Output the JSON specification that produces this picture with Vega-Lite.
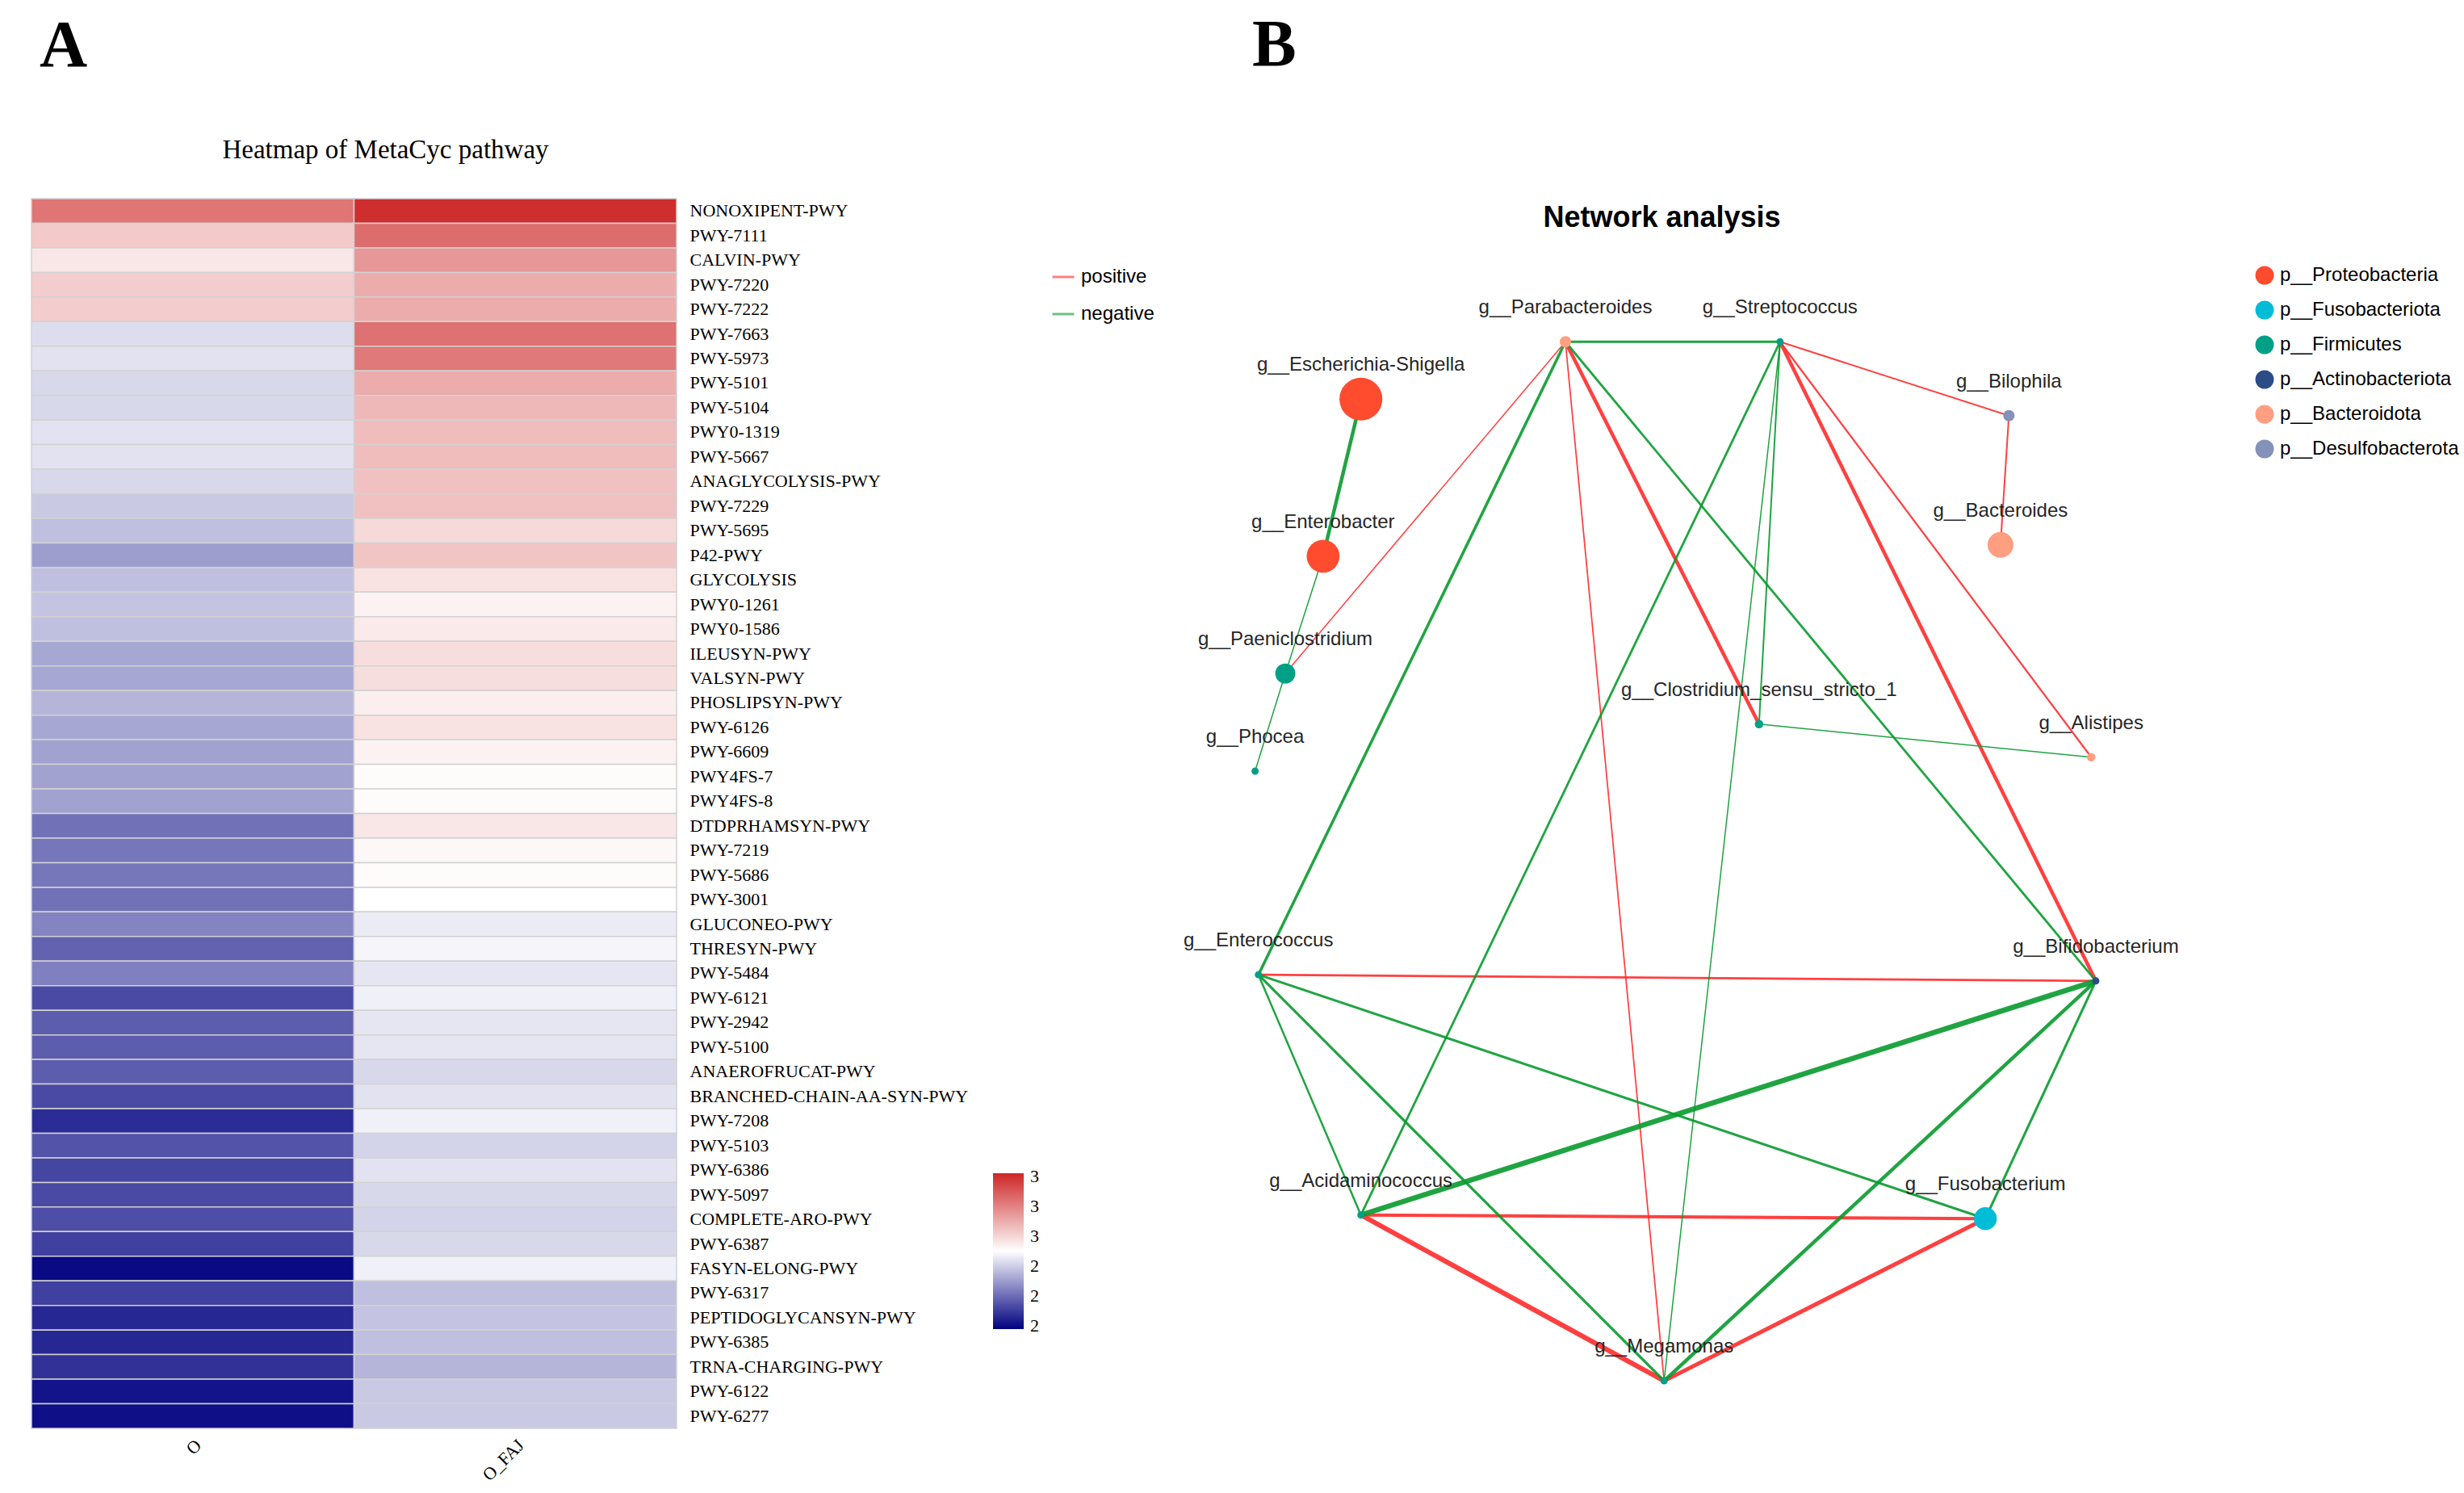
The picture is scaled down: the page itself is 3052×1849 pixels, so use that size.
{
"$schema": "https://vega.github.io/schema/vega-lite/v6.json",
"background": "white",
"padding": {"left": 38, "top": 15, "right": 0, "bottom": 0},
"bounds": "flush",
"spacing": 663,
"config": {"view": {"stroke": null}, "font": "Liberation Sans"},
"datasets": {
"heat": [
{"pathway":"NONOXIPENT-PWY","group":"O","value":3.23},{"pathway":"NONOXIPENT-PWY","group":"O_FAJ","value":3.40},
{"pathway":"PWY-7111","group":"O","value":3.03},{"pathway":"PWY-7111","group":"O_FAJ","value":3.25},
{"pathway":"CALVIN-PWY","group":"O","value":2.96},{"pathway":"CALVIN-PWY","group":"O_FAJ","value":3.15},
{"pathway":"PWY-7220","group":"O","value":3.02},{"pathway":"PWY-7220","group":"O_FAJ","value":3.10},
{"pathway":"PWY-7222","group":"O","value":3.02},{"pathway":"PWY-7222","group":"O_FAJ","value":3.10},
{"pathway":"PWY-7663","group":"O","value":2.83},{"pathway":"PWY-7663","group":"O_FAJ","value":3.24},
{"pathway":"PWY-5973","group":"O","value":2.84},{"pathway":"PWY-5973","group":"O_FAJ","value":3.22},
{"pathway":"PWY-5101","group":"O","value":2.82},{"pathway":"PWY-5101","group":"O_FAJ","value":3.10},
{"pathway":"PWY-5104","group":"O","value":2.82},{"pathway":"PWY-5104","group":"O_FAJ","value":3.07},
{"pathway":"PWY0-1319","group":"O","value":2.84},{"pathway":"PWY0-1319","group":"O_FAJ","value":3.06},
{"pathway":"PWY-5667","group":"O","value":2.84},{"pathway":"PWY-5667","group":"O_FAJ","value":3.06},
{"pathway":"ANAGLYCOLYSIS-PWY","group":"O","value":2.82},{"pathway":"ANAGLYCOLYSIS-PWY","group":"O_FAJ","value":3.05},
{"pathway":"PWY-7229","group":"O","value":2.79},{"pathway":"PWY-7229","group":"O_FAJ","value":3.05},
{"pathway":"PWY-5695","group":"O","value":2.77},{"pathway":"PWY-5695","group":"O_FAJ","value":2.99},
{"pathway":"P42-PWY","group":"O","value":2.70},{"pathway":"P42-PWY","group":"O_FAJ","value":3.04},
{"pathway":"GLYCOLYSIS","group":"O","value":2.77},{"pathway":"GLYCOLYSIS","group":"O_FAJ","value":2.97},
{"pathway":"PWY0-1261","group":"O","value":2.78},{"pathway":"PWY0-1261","group":"O_FAJ","value":2.93},
{"pathway":"PWY0-1586","group":"O","value":2.77},{"pathway":"PWY0-1586","group":"O_FAJ","value":2.95},
{"pathway":"ILEUSYN-PWY","group":"O","value":2.72},{"pathway":"ILEUSYN-PWY","group":"O_FAJ","value":2.98},
{"pathway":"VALSYN-PWY","group":"O","value":2.72},{"pathway":"VALSYN-PWY","group":"O_FAJ","value":2.98},
{"pathway":"PHOSLIPSYN-PWY","group":"O","value":2.75},{"pathway":"PHOSLIPSYN-PWY","group":"O_FAJ","value":2.94},
{"pathway":"PWY-6126","group":"O","value":2.72},{"pathway":"PWY-6126","group":"O_FAJ","value":2.97},
{"pathway":"PWY-6609","group":"O","value":2.71},{"pathway":"PWY-6609","group":"O_FAJ","value":2.93},
{"pathway":"PWY4FS-7","group":"O","value":2.71},{"pathway":"PWY4FS-7","group":"O_FAJ","value":2.91},
{"pathway":"PWY4FS-8","group":"O","value":2.71},{"pathway":"PWY4FS-8","group":"O_FAJ","value":2.91},
{"pathway":"DTDPRHAMSYN-PWY","group":"O","value":2.61},{"pathway":"DTDPRHAMSYN-PWY","group":"O_FAJ","value":2.96},
{"pathway":"PWY-7219","group":"O","value":2.62},{"pathway":"PWY-7219","group":"O_FAJ","value":2.92},
{"pathway":"PWY-5686","group":"O","value":2.62},{"pathway":"PWY-5686","group":"O_FAJ","value":2.91},
{"pathway":"PWY-3001","group":"O","value":2.61},{"pathway":"PWY-3001","group":"O_FAJ","value":2.90},
{"pathway":"GLUCONEO-PWY","group":"O","value":2.65},{"pathway":"GLUCONEO-PWY","group":"O_FAJ","value":2.86},
{"pathway":"THRESYN-PWY","group":"O","value":2.58},{"pathway":"THRESYN-PWY","group":"O_FAJ","value":2.88},
{"pathway":"PWY-5484","group":"O","value":2.64},{"pathway":"PWY-5484","group":"O_FAJ","value":2.85},
{"pathway":"PWY-6121","group":"O","value":2.53},{"pathway":"PWY-6121","group":"O_FAJ","value":2.87},
{"pathway":"PWY-2942","group":"O","value":2.57},{"pathway":"PWY-2942","group":"O_FAJ","value":2.85},
{"pathway":"PWY-5100","group":"O","value":2.57},{"pathway":"PWY-5100","group":"O_FAJ","value":2.85},
{"pathway":"ANAEROFRUCAT-PWY","group":"O","value":2.57},{"pathway":"ANAEROFRUCAT-PWY","group":"O_FAJ","value":2.82},
{"pathway":"BRANCHED-CHAIN-AA-SYN-PWY","group":"O","value":2.53},{"pathway":"BRANCHED-CHAIN-AA-SYN-PWY","group":"O_FAJ","value":2.84},
{"pathway":"PWY-7208","group":"O","value":2.47},{"pathway":"PWY-7208","group":"O_FAJ","value":2.87},
{"pathway":"PWY-5103","group":"O","value":2.55},{"pathway":"PWY-5103","group":"O_FAJ","value":2.81},
{"pathway":"PWY-6386","group":"O","value":2.52},{"pathway":"PWY-6386","group":"O_FAJ","value":2.84},
{"pathway":"PWY-5097","group":"O","value":2.53},{"pathway":"PWY-5097","group":"O_FAJ","value":2.82},
{"pathway":"COMPLETE-ARO-PWY","group":"O","value":2.54},{"pathway":"COMPLETE-ARO-PWY","group":"O_FAJ","value":2.81},
{"pathway":"PWY-6387","group":"O","value":2.51},{"pathway":"PWY-6387","group":"O_FAJ","value":2.82},
{"pathway":"FASYN-ELONG-PWY","group":"O","value":2.40},{"pathway":"FASYN-ELONG-PWY","group":"O_FAJ","value":2.87},
{"pathway":"PWY-6317","group":"O","value":2.51},{"pathway":"PWY-6317","group":"O_FAJ","value":2.77},
{"pathway":"PEPTIDOGLYCANSYN-PWY","group":"O","value":2.46},{"pathway":"PEPTIDOGLYCANSYN-PWY","group":"O_FAJ","value":2.78},
{"pathway":"PWY-6385","group":"O","value":2.46},{"pathway":"PWY-6385","group":"O_FAJ","value":2.77},
{"pathway":"TRNA-CHARGING-PWY","group":"O","value":2.48},{"pathway":"TRNA-CHARGING-PWY","group":"O_FAJ","value":2.75},
{"pathway":"PWY-6122","group":"O","value":2.42},{"pathway":"PWY-6122","group":"O_FAJ","value":2.79},
{"pathway":"PWY-6277","group":"O","value":2.41},{"pathway":"PWY-6277","group":"O_FAJ","value":2.79}
],
"nodes": [
{"name":"g__Parabacteroides","phylum":"p__Bacteroidota","x":-0.273,"y":0.913,"abundance":2.0},
{"name":"g__Streptococcus","phylum":"p__Firmicutes","x":0.238,"y":0.913,"abundance":0.8},
{"name":"g__Escherichia-Shigella","phylum":"p__Proteobacteria","x":-0.760,"y":0.802,"abundance":28.3},
{"name":"g__Enterobacter","phylum":"p__Proteobacteria","x":-0.850,"y":0.498,"abundance":16.6},
{"name":"g__Paeniclostridium","phylum":"p__Firmicutes","x":-0.940,"y":0.271,"abundance":6.2},
{"name":"g__Phocea","phylum":"p__Firmicutes","x":-1.012,"y":0.082,"abundance":0.8},
{"name":"g__Bilophila","phylum":"p__Desulfobacterota","x":0.783,"y":0.770,"abundance":2.0},
{"name":"g__Bacteroides","phylum":"p__Bacteroidota","x":0.763,"y":0.520,"abundance":10.2},
{"name":"g__Clostridium_sensu_stricto_1","phylum":"p__Firmicutes","x":0.188,"y":0.173,"abundance":1.1},
{"name":"g__Alistipes","phylum":"p__Bacteroidota","x":0.979,"y":0.109,"abundance":1.1},
{"name":"g__Enterococcus","phylum":"p__Firmicutes","x":-1.004,"y":-0.312,"abundance":0.8},
{"name":"g__Bifidobacterium","phylum":"p__Actinobacteriota","x":0.990,"y":-0.324,"abundance":0.8},
{"name":"g__Acidaminococcus","phylum":"p__Firmicutes","x":-0.760,"y":-0.777,"abundance":0.8},
{"name":"g__Fusobacterium","phylum":"p__Fusobacteriota","x":0.727,"y":-0.784,"abundance":8.0},
{"name":"g__Megamonas","phylum":"p__Firmicutes","x":-0.038,"y":-1.098,"abundance":0.8}
],
"edges": [
{"source":"g__Parabacteroides","target":"g__Paeniclostridium","sign":"positive","weight":0.19},
{"source":"g__Parabacteroides","target":"g__Clostridium_sensu_stricto_1","sign":"positive","weight":0.56},
{"source":"g__Parabacteroides","target":"g__Megamonas","sign":"positive","weight":0.22},
{"source":"g__Streptococcus","target":"g__Bilophila","sign":"positive","weight":0.25},
{"source":"g__Streptococcus","target":"g__Alistipes","sign":"positive","weight":0.28},
{"source":"g__Streptococcus","target":"g__Bifidobacterium","sign":"positive","weight":0.56},
{"source":"g__Bilophila","target":"g__Bacteroides","sign":"positive","weight":0.25},
{"source":"g__Enterococcus","target":"g__Bifidobacterium","sign":"positive","weight":0.35},
{"source":"g__Acidaminococcus","target":"g__Fusobacterium","sign":"positive","weight":0.5},
{"source":"g__Acidaminococcus","target":"g__Megamonas","sign":"positive","weight":0.75},
{"source":"g__Fusobacterium","target":"g__Megamonas","sign":"positive","weight":0.62},
{"source":"g__Escherichia-Shigella","target":"g__Enterobacter","sign":"negative","weight":0.56},
{"source":"g__Enterobacter","target":"g__Paeniclostridium","sign":"negative","weight":0.19},
{"source":"g__Paeniclostridium","target":"g__Phocea","sign":"negative","weight":0.19},
{"source":"g__Parabacteroides","target":"g__Streptococcus","sign":"negative","weight":0.38},
{"source":"g__Parabacteroides","target":"g__Enterococcus","sign":"negative","weight":0.44},
{"source":"g__Parabacteroides","target":"g__Bifidobacterium","sign":"negative","weight":0.35},
{"source":"g__Streptococcus","target":"g__Acidaminococcus","sign":"negative","weight":0.35},
{"source":"g__Streptococcus","target":"g__Clostridium_sensu_stricto_1","sign":"negative","weight":0.25},
{"source":"g__Streptococcus","target":"g__Megamonas","sign":"negative","weight":0.19},
{"source":"g__Clostridium_sensu_stricto_1","target":"g__Alistipes","sign":"negative","weight":0.19},
{"source":"g__Enterococcus","target":"g__Acidaminococcus","sign":"negative","weight":0.31},
{"source":"g__Enterococcus","target":"g__Megamonas","sign":"negative","weight":0.4},
{"source":"g__Enterococcus","target":"g__Fusobacterium","sign":"negative","weight":0.38},
{"source":"g__Acidaminococcus","target":"g__Bifidobacterium","sign":"negative","weight":0.81},
{"source":"g__Megamonas","target":"g__Bifidobacterium","sign":"negative","weight":0.56},
{"source":"g__Fusobacterium","target":"g__Bifidobacterium","sign":"negative","weight":0.38}
]
},
"hconcat": [
{
"width": 799,
"height": 1523,
"title": {"text": "A", "anchor": "start", "frame": "group", "dx": 10, "font": "Liberation Serif", "fontSize": 82, "fontWeight": "bold", "color": "black", "offset": 70},
"data": {"name": "heat"},
"mark": {"type": "rect", "stroke": "#d2d2d2", "strokeWidth": 1.5},
"encoding": {
"x": {"field": "group", "type": "nominal", "sort": ["O", "O_FAJ"], "scale": {"paddingInner": 0, "paddingOuter": 0},
"axis": {"orient": "bottom", "title": null, "labelAngle": -45, "labelFont": "Liberation Serif", "labelFontSize": 22, "labelColor": "black", "ticks": false, "domain": false, "labelPadding": 10}},
"y": {"field": "pathway", "type": "nominal", "sort": null, "scale": {"paddingInner": 0, "paddingOuter": 0},
"axis": {"orient": "right", "title": "Heatmap of MetaCyc pathway", "titleAngle": 0, "titleX": -361, "titleY": -61, "titleAlign": "center", "titleBaseline": "middle", "titleFont": "Liberation Serif", "titleFontSize": 33, "titleFontWeight": "normal", "titleColor": "black", "labelFont": "Liberation Serif", "labelFontSize": 22, "labelColor": "black", "labelLimit": 600, "ticks": false, "domain": false, "labelPadding": 16}},
"color": {"field": "value", "type": "quantitative",
"scale": {"domain": [2.38, 2.9, 3.42], "range": ["#000080", "#FFFFFF", "#CD2626"], "interpolate": "rgb"},
"legend": {"orient": "none", "legendX": 1191, "legendY": 1207, "direction": "vertical", "title": null, "gradientLength": 193, "gradientThickness": 38, "gradientStrokeWidth": 0, "values": [2.4, 2.6, 2.8, 3.0, 3.2, 3.4], "labelExpr": "floor(datum.value)", "labelFont": "Liberation Serif", "labelFontSize": 22, "labelColor": "black", "labelOffset": 8, "labelOverlap": false}}
}
},
{
"width": 1160,
"height": 1523,
"title": {"text": "B", "anchor": "start", "frame": "group", "dx": 50, "font": "Liberation Serif", "fontSize": 82, "fontWeight": "bold", "color": "black", "offset": 148},
"layer": [
{
"data": {"name": "edges"},
"transform": [
{"lookup": "source", "from": {"data": {"name": "nodes"}, "key": "name", "fields": ["x", "y"]}, "as": ["x1", "y1"]},
{"lookup": "target", "from": {"data": {"name": "nodes"}, "key": "name", "fields": ["x", "y"]}, "as": ["x2", "y2"]}
],
"mark": {"type": "rule", "opacity": 0.9},
"encoding": {
"x": {"field": "x1", "type": "quantitative", "scale": {"domain": [-1.115, 1.115], "nice": false, "zero": false},
"axis": {"orient": "top", "title": "Network analysis", "labels": false, "ticks": false, "domain": false, "grid": false, "titleX": 557, "titleY": 23, "titleAlign": "center", "titleBaseline": "middle", "titleFont": "Liberation Sans", "titleFontSize": 36, "titleFontWeight": "bold", "titleColor": "black"}},
"y": {"field": "y1", "type": "quantitative", "scale": {"domain": [-1.19, 1.19], "nice": false, "zero": false}, "axis": null},
"x2": {"field": "x2"},
"y2": {"field": "y2"},
"stroke": {"field": "sign", "type": "nominal", "scale": {"domain": ["positive", "negative"], "range": ["#FF2B2B", "#089A2E"]},
"legend": {"orient": "none", "legendX": 1263, "legendY": 82, "title": null, "symbolType": "stroke", "symbolSize": 729, "symbolStrokeWidth": 3, "symbolOpacity": 0.6, "labelFont": "Liberation Sans", "labelFontSize": 24, "labelColor": "black", "labelOffset": 7, "rowPadding": 19}},
"strokeWidth": {"field": "weight", "type": "quantitative", "scale": {"domain": [0, 1], "range": [0, 8]}, "legend": null}
}
},
{
"data": {"name": "nodes"},
"mark": {"type": "circle", "opacity": 1},
"encoding": {
"x": {"field": "x", "type": "quantitative"},
"y": {"field": "y", "type": "quantitative"},
"fill": {"field": "phylum", "type": "nominal",
"scale": {"domain": ["p__Proteobacteria", "p__Fusobacteriota", "p__Firmicutes", "p__Actinobacteriota", "p__Bacteroidota", "p__Desulfobacterota"], "range": ["#FF4B2E", "#00BCD6", "#00A087", "#2C4C88", "#FF9E80", "#8491B8"]},
"legend": {"orient": "none", "legendX": 2754, "legendY": 83, "title": null, "symbolType": "circle", "symbolSize": 531, "symbolOpacity": 1, "symbolStrokeWidth": 0, "labelFont": "Liberation Sans", "labelFontSize": 24, "labelColor": "black", "labelOffset": 7, "labelLimit": 400, "rowPadding": 19}},
"size": {"field": "abundance", "type": "quantitative", "scale": {"domain": [0, 28.3], "range": [0, 2827], "zero": true}, "legend": null}
}
},
{
"data": {"name": "nodes"},
"mark": {"type": "text", "dy": -42, "font": "Liberation Sans", "fontSize": 24, "color": "#262626"},
"encoding": {
"x": {"field": "x", "type": "quantitative"},
"y": {"field": "y", "type": "quantitative"},
"text": {"field": "name"}
}
}
]
}
]
}
